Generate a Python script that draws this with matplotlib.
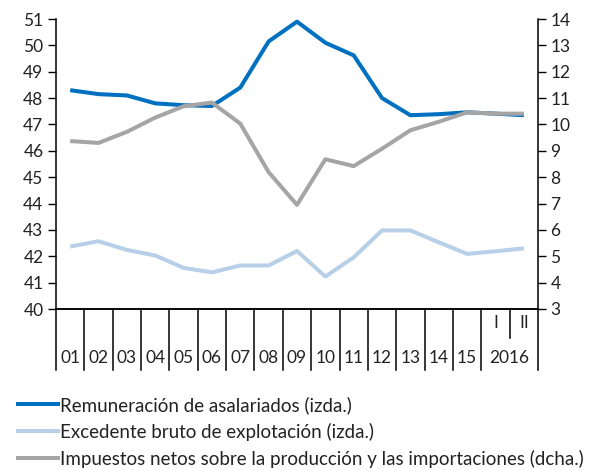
import matplotlib
matplotlib.use("Agg")
import matplotlib.pyplot as plt
from matplotlib.lines import Line2D

plt.rcParams['font.family'] = ['Lato', 'DejaVu Sans']

years = ["01", "02", "03", "04", "05", "06", "07", "08", "09", "10", "11", "12", "13", "14", "15"]
quarters = ["I", "II"]
year_2016 = "2016"

remuneracion = [48.3, 48.15, 48.1, 47.8, 47.73, 47.7, 48.4, 50.15, 50.9, 50.1, 49.62, 48.0, 47.35, 47.39, 47.46, 47.41, 47.35]
excedente = [42.37, 42.57, 42.24, 42.03, 41.56, 41.39, 41.65, 41.65, 42.2, 41.23, 41.96, 42.98, 42.98, 42.53, 42.09, 42.19, 42.3]
impuestos = [9.37, 9.3, 9.72, 10.26, 10.69, 10.83, 10.03, 8.19, 6.95, 8.68, 8.42, 9.08, 9.78, 10.1, 10.46, 10.41, 10.41]

labels = ["Remuneración de asalariados (izda.)",
          "Excedente bruto de explotación (izda.)",
          "Impuestos netos sobre la producción y las importaciones (dcha.)"]
colors = ["#0070C0", "#B8CFE8", "#A5A5A5"]

W, H = 598, 471
fig = plt.figure(figsize=(W / 100, H / 100), dpi=100)
ax_l, ax_r, ax_t, ax_b = 56, 538, 19, 309
ax = fig.add_axes([ax_l / W, 1 - ax_b / H, (ax_r - ax_l) / W, (ax_b - ax_t) / H])
ax2 = ax.twinx()

n = len(remuneracion)
xs = [i + 0.5 for i in range(n)]
lw = 2.9
ax.plot(xs, excedente, color=colors[1], lw=lw, solid_capstyle='butt', zorder=2)
ax.plot(xs, remuneracion, color=colors[0], lw=lw, solid_capstyle='butt', zorder=3)
ax2.plot(xs, impuestos, color=colors[2], lw=lw, solid_capstyle='butt')

ax.set_xlim(0, n)
ax.set_ylim(40, 51)
ax.set_yticks(range(40, 52))
ax2.set_ylim(3, 14)
ax2.set_yticks(range(3, 15))

tick_color = "#222222"
for a in (ax, ax2):
    a.spines['top'].set_visible(False)
    a.set_xticks([])
    a.tick_params(axis='y', direction='out', length=6, width=1, labelsize=12.5,
                  colors='black', labelcolor=tick_color, pad=3)
    for s in a.spines.values():
        s.set_linewidth(1.1)
ax.spines['right'].set_visible(False)
ax2.spines['left'].set_visible(False)

# category separators and labels below axis
axh = ax_b - ax_t
def yfrac(py):
    return -(py - ax_b) / axh

trans = ax.get_xaxis_transform()
for b in list(range(0, 16)) + [17]:
    ax.plot([b, b], [0, yfrac(370)], transform=trans, color='black', lw=1.1, clip_on=False)
ax.plot([16, 16], [0, yfrac(338)], transform=trans, color='black', lw=1.1, clip_on=False)

for i, y in enumerate(years):
    ax.text(i + 0.5, yfrac(358), y, transform=trans, ha='center', va='center',
            fontsize=12.5, color=tick_color)
ax.text(16, yfrac(358), year_2016, transform=trans, ha='center', va='center',
        fontsize=12.5, color=tick_color)
for j, q in enumerate(quarters):
    ax.text(15.5 + j, yfrac(323), q, transform=trans, ha='center', va='center',
            fontsize=12.5, color=tick_color)

handles = [Line2D([], [], color=c, lw=lw) for c in colors]
fig.legend(handles, labels, loc='upper left', bbox_to_anchor=(18 / W, 1 - 396 / H),
           frameon=False, handlelength=2.12, handletextpad=0.12, labelspacing=0.48,
           borderpad=0, borderaxespad=0, labelcolor=tick_color,
           prop={'size': 13.5})

fig.savefig("out.png", dpi=100)
